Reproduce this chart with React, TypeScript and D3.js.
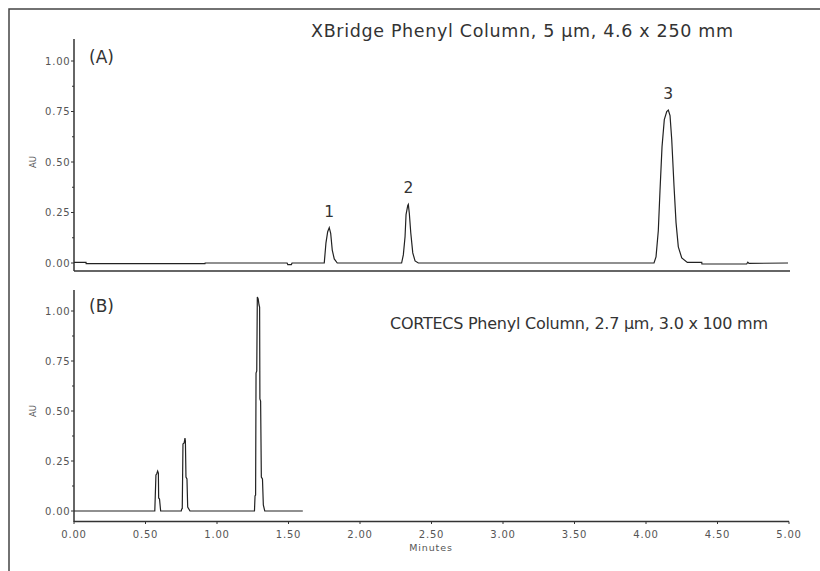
import React from "react";
import * as d3 from "d3";

// ---- data ----
const timeTicks = [0, 0.5, 1.0, 1.5, 2.0, 2.5, 3.0, 3.5, 4.0, 4.5, 5.0];
const auTicks = [0, 0.25, 0.5, 0.75, 1.0];
const auMinorTicks = [0.125, 0.375, 0.625, 0.875];

// (A) XBridge Phenyl trace
const traceATime = [0.0, 0.084, 0.085, 0.916, 0.917, 1.49, 1.495, 1.52, 1.525, 1.75, 1.762, 1.774, 1.785, 1.795, 1.806, 1.82, 1.841, 2.291, 2.303, 2.315, 2.322, 2.334, 2.338, 2.345, 2.355, 2.369, 2.385, 2.408, 4.056, 4.07, 4.086, 4.098, 4.112, 4.128, 4.145, 4.156, 4.168, 4.18, 4.196, 4.21, 4.226, 4.25, 4.289, 4.39, 4.391, 4.704, 4.712, 4.72, 4.993];
const traceAAU = [0.003, 0.003, -0.003, -0.003, 0.0, 0.0, -0.008, -0.008, 0.0, 0.0, 0.1, 0.155, 0.175, 0.147, 0.064, 0.02, 0.0, 0.0, 0.04, 0.13, 0.24, 0.285, 0.29, 0.245, 0.15, 0.05, 0.01, 0.0, 0.0, 0.03, 0.16, 0.36, 0.575, 0.71, 0.75, 0.757, 0.73, 0.61, 0.38, 0.2, 0.08, 0.025, 0.003, 0.003, -0.005, -0.005, 0.004, -0.002, 0.0];

// (B) CORTECS Phenyl trace
const traceBTime = [0.0, 0.565, 0.573, 0.578, 0.585, 0.59, 0.592, 0.598, 0.606, 0.75, 0.753, 0.757, 0.762, 0.77, 0.776, 0.779, 0.783, 0.79, 0.795, 0.811, 1.262, 1.266, 1.27, 1.273, 1.278, 1.282, 1.288, 1.294, 1.298, 1.3, 1.305, 1.31, 1.318, 1.324, 1.334, 1.6];
const traceBAU = [0, 0, 0.18, 0.185, 0.2, 0.19, 0.065, 0.06, 0, 0, 0.01, 0.012, 0.335, 0.34, 0.365, 0.35, 0.17, 0.16, 0.02, 0, 0, 0.075, 0.08, 0.69, 0.7, 1.07, 1.06, 1.03, 1.02, 0.56, 0.55, 0.17, 0.16, 0.03, 0, 0];

const peakLabels = ["1", "2", "3"];
const peakLabelTime = [1.785, 2.338, 4.156];
const peakLabelAU = [0.175, 0.29, 0.757];

const titleA = "XBridge Phenyl Column, 5 µm, 4.6 x 250 mm";
const titleB = "CORTECS Phenyl Column, 2.7 µm, 3.0 x 100 mm";

const FONT = "'DejaVu Sans', Verdana, sans-serif";
const AXIS_COLOR = "#333";
const LABEL_COLOR = "#555";

const x = d3.scaleLinear().domain([0, 5]).range([74, 789]);
const yA = d3.scaleLinear().domain([0, 1]).range([263, 61]);
const yB = d3.scaleLinear().domain([0, 1]).range([511, 311]);

function YAxis({ y, top, bottom }: { y: d3.ScaleLinear<number, number>; top: number; bottom: number }) {
  return (
    <g>
      <line x1={74} x2={74} y1={top} y2={bottom} stroke={AXIS_COLOR} strokeWidth={1.5} />
      {auTicks.map((t) => (
        <g key={"M" + t}>
          <line x1={71} x2={74} y1={y(t)} y2={y(t)} stroke={AXIS_COLOR} strokeWidth={1} />
          <text
            x={70.5}
            y={y(t)}
            dy="0.35em"
            textAnchor="end"
            fontFamily={FONT}
            fontSize={10}
            letterSpacing={0.8}
            fill={LABEL_COLOR}
          >
            {t.toFixed(2)}
          </text>
        </g>
      ))}
      {auMinorTicks.map((t) => (
        <line key={"m" + t} x1={72} x2={74} y1={y(t)} y2={y(t)} stroke={AXIS_COLOR} strokeWidth={1} />
      ))}
      <text
        transform={`translate(36,${y(0.5)}) rotate(-90)`}
        textAnchor="middle"
        fontFamily={FONT}
        fontSize={8.5}
        fill={LABEL_COLOR}
      >
        AU
      </text>
    </g>
  );
}

export default function App() {
  const lineA = d3
    .line<number>()
    .x((_, i) => x(traceATime[i]))
    .y((d) => yA(d));
  const lineB = d3
    .line<number>()
    .x((_, i) => x(traceBTime[i]))
    .y((d) => yB(d));

  return (
    <svg
      width={820}
      height={571}
      style={{ position: "absolute", left: 0, top: 0, background: "#fff" }}
    >
      <rect x={0} y={0} width={820} height={571} fill="#fff" />
      {/* outer frame */}
      <rect x={9} y={9} width={830} height={580} fill="none" stroke="#444" strokeWidth={1.5} />

      {/* Panel A */}
      <YAxis y={yA} top={39} bottom={271} />
      <line x1={74} x2={790} y1={271} y2={271} stroke={AXIS_COLOR} strokeWidth={1.5} />
      <path d={lineA(traceAAU) || ""} fill="none" stroke="#222" strokeWidth={1.2} />
      {peakLabels.map((p, i) => (
        <text
          key={p}
          x={x(peakLabelTime[i])}
          y={yA(peakLabelAU[i]) - 11}
          textAnchor="middle"
          fontFamily={FONT}
          fontSize={15.5}
          fill="#333"
        >
          {p}
        </text>
      ))}
      <text x={89} y={63} fontFamily={FONT} fontSize={17} fill="#333">
        (A)
      </text>
      <text x={311} y={37} fontFamily={FONT} fontSize={17.5} fill="#333" textLength={422} lengthAdjust="spacing">
        {titleA}
      </text>

      {/* Panel B */}
      <YAxis y={yB} top={290} bottom={522} />
      <line x1={74} x2={789} y1={521.5} y2={521.5} stroke={AXIS_COLOR} strokeWidth={1.5} />
      {timeTicks.map((t) => (
        <g key={t}>
          <line x1={x(t)} x2={x(t)} y1={521.5} y2={524} stroke={AXIS_COLOR} strokeWidth={1} />
          <text
            x={x(t)}
            y={538}
            textAnchor="middle"
            fontFamily={FONT}
            fontSize={10}
            letterSpacing={0.8}
            fill={LABEL_COLOR}
          >
            {t.toFixed(2)}
          </text>
        </g>
      ))}
      <text x={431} y={551} textAnchor="middle" fontFamily={FONT} fontSize={9.5} letterSpacing={0.9} fill={LABEL_COLOR}>
        Minutes
      </text>
      <path d={lineB(traceBAU) || ""} fill="none" stroke="#222" strokeWidth={1.2} />
      <text x={89} y={312} fontFamily={FONT} fontSize={17} fill="#333">
        (B)
      </text>
      <text x={390} y={329} fontFamily={FONT} fontSize={16} fill="#333" textLength={378} lengthAdjust="spacing">
        {titleB}
      </text>
    </svg>
  );
}
